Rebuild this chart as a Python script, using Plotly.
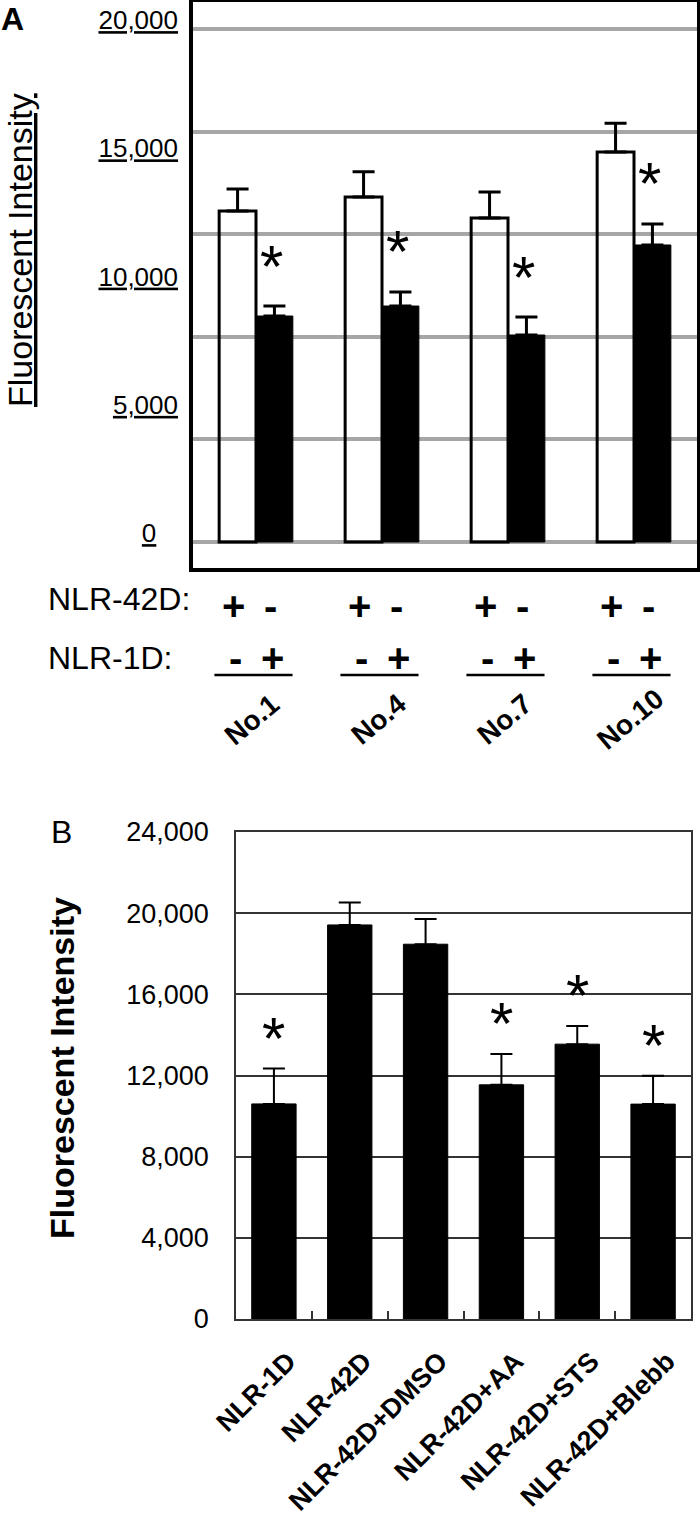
import plotly.graph_objects as go

# ---------------- panel A data ----------------
groups_a = ["No.1", "No.4", "No.7", "No.10"]
nlr42d_mean = [12900, 13450, 12630, 15200]
nlr42d_sd = [860, 980, 1020, 1130]
nlr1d_mean = [8810, 9200, 8070, 11580]
nlr1d_sd = [390, 550, 700, 820]
sig_a = [True, True, True, True]
yticks_a = [0, 5000, 10000, 15000, 20000]
ygrid_a = [0, 4000, 8000, 12000, 16000, 20000]
signs_42d = ["+", "-"]   # white bar, black bar
signs_1d = ["-", "+"]

# ---------------- panel B data ----------------
groups_b = ["NLR-1D", "NLR-42D", "NLR-42D+DMSO", "NLR-42D+AA", "NLR-42D+STS", "NLR-42D+Blebb"]
mean_b = [10600, 19420, 18470, 11540, 13545, 10590]
sd_b = [1740, 1100, 1245, 1525, 900, 1400]
sig_b = [True, False, False, True, True, True]
yticks_b = [0, 4000, 8000, 12000, 16000, 20000, 24000]

W, H = 700, 1517
FONT = "Liberation Sans, Arial, sans-serif"
BARGAP = 0.415


def px_x(x):
    return x / W


def px_y(y):
    return 1 - y / H


# panel A frame (pixels)
A_L, A_R, A_T, A_B = 193, 697, 2, 568
A_ZERO, A_TOP = 542, 29          # pixel rows of 0 and 20,000
per = (A_ZERO - A_TOP) / 20000
a_range = [-(A_B - A_ZERO) / per, (A_ZERO - A_T) / per]
bar_off_a = (1 - BARGAP) / 4 * (A_R - A_L) / len(groups_a)

# panel B frame (pixels)
B_L, B_R, B_T, B_B = 236, 691, 832, 1319

fig = go.Figure()

# --- panel A bars ---
fig.add_trace(go.Bar(
    x=groups_a, y=nlr42d_mean, name="NLR-42D", xaxis="x", yaxis="y",
    marker=dict(color="rgba(0,0,0,0)", line=dict(color="black", width=3)),
    error_y=dict(type="data", array=nlr42d_sd, arrayminus=[0] * len(groups_a),
                 symmetric=False, color="black", thickness=3, width=11),
))
fig.add_trace(go.Bar(
    x=groups_a, y=nlr1d_mean, name="NLR-1D", xaxis="x", yaxis="y",
    marker=dict(color="black", line=dict(color="black", width=1)),
    error_y=dict(type="data", array=nlr1d_sd, arrayminus=[0] * len(groups_a),
                 symmetric=False, color="black", thickness=3, width=11),
))
# keeps the label axis of panel A alive
fig.add_trace(go.Scatter(x=[groups_a[0]], y=[yticks_a[0]], xaxis="x", yaxis="y3",
                         mode="markers", marker=dict(opacity=0), hoverinfo="skip"))

# --- panel B bars ---
fig.add_trace(go.Bar(
    x=groups_b, y=mean_b, xaxis="x2", yaxis="y2",
    marker=dict(color="black", line=dict(color="black", width=1)),
    error_y=dict(type="data", array=sd_b, arrayminus=[0] * len(groups_b),
                 symmetric=False, color="black", thickness=2, width=11),
))

ann = []
shapes = []

# panel letters and axis titles
ann.append(dict(text="<b>A</b>", x=px_x(12), y=px_y(19), font=dict(size=32)))
ann.append(dict(text="B", x=px_x(62), y=px_y(832), font=dict(size=32)))
ann.append(dict(text="<u>Fluorescent Intensity</u>", textangle=-90,
                x=px_x(20), y=px_y(250), font=dict(size=34)))
ann.append(dict(text="<b>Fluorescent Intensity</b>", textangle=-90,
                x=px_x(62), y=px_y(1068), font=dict(size=34)))

# +/- table under panel A
ann.append(dict(text="NLR-42D:", x=px_x(46), xanchor="left", y=px_y(599), font=dict(size=32)))
ann.append(dict(text="NLR-1D:", x=px_x(46), xanchor="left", y=px_y(658), font=dict(size=32)))
for i, g in enumerate(groups_a):
    for j in range(2):
        sh = (-1 if j == 0 else 1) * bar_off_a
        ann.append(dict(text="<b>%s</b>" % signs_42d[j], xref="x", x=g, xshift=sh - 4,
                        y=px_y(606), font=dict(size=40)))
        ann.append(dict(text="<b>%s</b>" % signs_1d[j], xref="x", x=g, xshift=sh - 2,
                        y=px_y(658), font=dict(size=40)))
    shapes.append(dict(type="line", xref="x", yref="paper", x0=i - 0.33, x1=i + 0.29,
                       y0=px_y(675), y1=px_y(675), line=dict(color="black", width=2.5)))
    ann.append(dict(text="<b>%s</b>" % g, xref="x", x=g, xshift=-4, y=px_y(719),
                    textangle=-40, font=dict(size=28)))

# significance stars
for i, g in enumerate(groups_a):
    if sig_a[i]:
        ann.append(dict(text="*", xref="x", yref="y", x=g, xshift=bar_off_a - 3,
                        y=nlr1d_mean[i] + nlr1d_sd[i], yshift=40, font=dict(size=60)))
for i, g in enumerate(groups_b):
    if sig_b[i]:
        ann.append(dict(text="*", xref="x2", yref="y2", x=g,
                        y=mean_b[i] + sd_b[i], yshift=30, font=dict(size=60)))

for a in ann:
    a.setdefault("xref", "paper")
    a.setdefault("yref", "paper")
    a.setdefault("xanchor", "center")
    a.setdefault("yanchor", "middle")
    a["showarrow"] = False
    a["font"].setdefault("color", "black")
    a["font"].setdefault("family", FONT)

zero_pad = "\u00a0" * 3
fig.update_layout(
    width=W, height=H, autosize=False,
    margin=dict(l=0, r=0, t=0, b=0, autoexpand=False),
    paper_bgcolor="white", plot_bgcolor="white",
    showlegend=False,
    barmode="group", bargap=BARGAP, bargroupgap=0,
    font=dict(family=FONT, color="black"),
    xaxis=dict(domain=[px_x(A_L), px_x(A_R)], anchor="y", range=[-0.5, len(groups_a) - 0.5],
               showticklabels=False, ticks="", showgrid=False, zeroline=False, automargin=False,
               showline=True, mirror=True, linecolor="black", linewidth=3.5),
    yaxis=dict(domain=[px_y(A_B), px_y(A_T)], anchor="x", range=a_range,
               tickvals=ygrid_a, showticklabels=False, ticks="", automargin=False,
               showgrid=True, gridcolor="#a6a6a6", gridwidth=4, zeroline=False,
               showline=True, mirror=True, linecolor="black", linewidth=3.5),
    yaxis3=dict(overlaying="y", anchor="x", side="left", range=a_range,
                tickvals=yticks_a, automargin=False,
                ticktext=["<u>%s</u>%s" % (f"{v:,}", zero_pad if v == 0 else "") for v in yticks_a],
                showgrid=False, zeroline=False, showline=False, ticks="",
                ticklabeloverflow="allow", ticklabelstandoff=14, ticklabelshift=-9,
                tickfont=dict(size=26, color="black")),
    xaxis2=dict(domain=[px_x(B_L), px_x(B_R)], anchor="y2", tickangle=-45, automargin=False,
                tickfont=dict(size=27, weight="bold", color="black"),
                ticklabelstandoff=14, ticklabelshift=14,
                ticks="inside", tickson="boundaries", ticklen=8, tickwidth=1.5, tickcolor="#333",
                showgrid=False, zeroline=False,
                showline=True, mirror=True, linecolor="#333", linewidth=1.5),
    yaxis2=dict(domain=[px_y(B_B), px_y(B_T)], anchor="x2", range=[0, yticks_b[-1]],
                tickvals=yticks_b, tickformat=",d", ticks="", ticklabelstandoff=20, automargin=False,
                tickfont=dict(size=27, color="black"),
                showgrid=True, gridcolor="#333", gridwidth=1.5, zeroline=False,
                showline=True, mirror=True, linecolor="#333", linewidth=1.5),
    annotations=ann,
    shapes=shapes,
)

# the page body has a default 8px margin; drop it so the figure fills the window
fig.write_html("out.html", config={"displayModeBar": False},
               post_script="document.body.style.margin='0px';")
